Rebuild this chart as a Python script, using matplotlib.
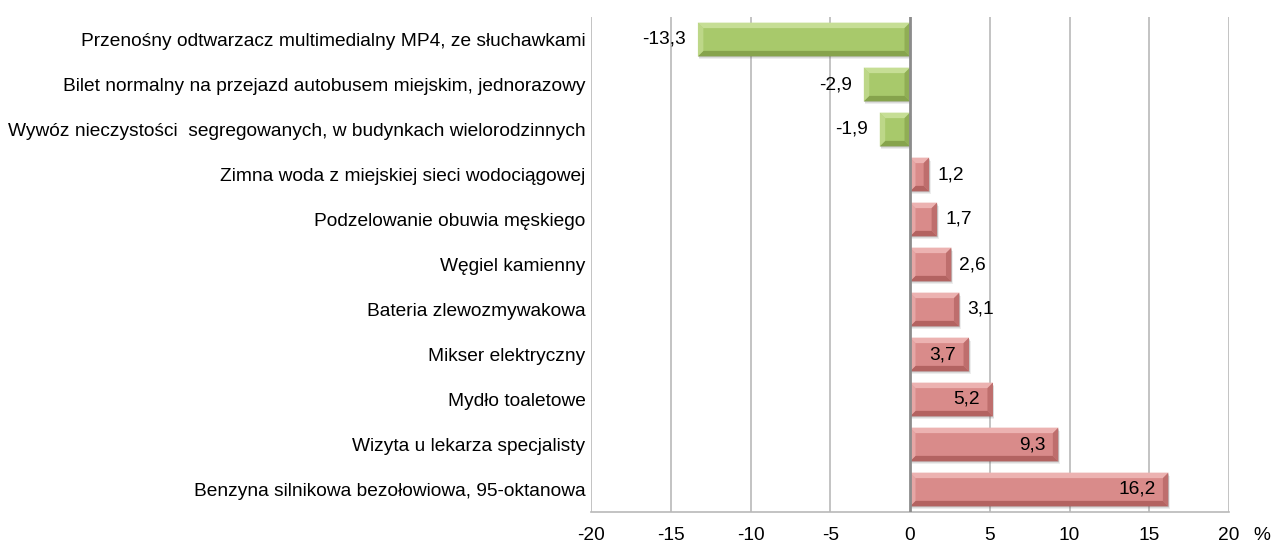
import numpy as np
import matplotlib.pyplot as plt
from matplotlib.patches import Polygon, Rectangle

plt.rcParams['font.family'] = ['Liberation Sans', 'DejaVu Sans']

# Data (top to bottom)
categories = [
    "Przenośny odtwarzacz multimedialny MP4, ze słuchawkami",
    "Bilet normalny na przejazd autobusem miejskim, jednorazowy",
    "Wywóz nieczystości  segregowanych, w budynkach wielorodzinnych",
    "Zimna woda z miejskiej sieci wodociągowej",
    "Podzelowanie obuwia męskiego",
    "Węgiel kamienny",
    "Bateria zlewozmywakowa",
    "Mikser elektryczny",
    "Mydło toaletowe",
    "Wizyta u lekarza specjalisty",
    "Benzyna silnikowa bezołowiowa, 95-oktanowa",
]
values = [-13.3, -2.9, -1.9, 1.2, 1.7, 2.6, 3.1, 3.7, 5.2, 9.3, 16.2]
x_ticks = [-20, -15, -10, -5, 0, 5, 10, 15, 20]

# colours: (main, light bevel, dark bevel)
GREEN = ("#a8c96b", "#c6de95", "#86a34c")
RED = ("#d98b8a", "#ecb2b1", "#b36361")
FS = 13.8

fig = plt.figure(figsize=(12.72, 5.43), dpi=100)
ax = fig.add_axes([591/1272, 1 - 512/543, (1229 - 591)/1272, (512 - 17)/543])

y = np.arange(len(categories))
ax.set_xlim(-20, 20)
ax.set_ylim(len(categories) - 0.5, -0.5)

for t in x_ticks:
    ax.axvline(t, color="#8c8c8c" if t == 0 else "#b9b9b9",
               lw=2.0 if t == 0 else 1.2, zorder=1 if t else 4)
for side in ["top", "right", "left"]:
    ax.spines[side].set_visible(False)
ax.spines["bottom"].set_color("#b9b9b9")
ax.spines["bottom"].set_linewidth(1.2)

bars = ax.barh(y, values, height=0.75, zorder=3, linewidth=0)

fig.canvas.draw()
# pixel -> data scale for bevel
px = 1.0 / (ax.transData.transform((1, 0))[0] - ax.transData.transform((0, 0))[0])
py = 1.0 / abs(ax.transData.transform((0, 1))[1] - ax.transData.transform((0, 0))[1])
bw = 5.5

for bar, v in zip(bars, values):
    main, light, dark = GREEN if v < 0 else RED
    x0, w = bar.get_x(), bar.get_width()
    if w < 0:
        x0, w = x0 + w, -w
    y0, h = bar.get_y(), bar.get_height()
    bar.set_facecolor(main)
    # soft shadow
    for k, a in [(3, 0.10), (2, 0.12), (1, 0.15)]:
        ax.add_patch(Rectangle((x0 + k * px * 0.5, y0 + k * py), w, h, color="#555555",
                               alpha=a, lw=0, zorder=2))
    bx, by = min(bw * px, w / 2), bw * py
    x1, y1 = x0 + w, y0 + h
    # top (y0 is visually top because axis inverted)
    ax.add_patch(Polygon([(x0, y0), (x1, y0), (x1 - bx, y0 + by), (x0 + bx, y0 + by)],
                         color=light, lw=0, zorder=3.5))
    ax.add_patch(Polygon([(x0, y1), (x1, y1), (x1 - bx, y1 - by), (x0 + bx, y1 - by)],
                         color=dark, lw=0, zorder=3.5))
    ax.add_patch(Polygon([(x0, y0), (x0 + bx, y0 + by), (x0 + bx, y1 - by), (x0, y1)],
                         color=light, lw=0, zorder=3.5, alpha=0.7))
    ax.add_patch(Polygon([(x1, y0), (x1 - bx, y0 + by), (x1 - bx, y1 - by), (x1, y1)],
                         color=dark, lw=0, zorder=3.5, alpha=0.7))

    lbl = f"{v:.1f}".replace(".", ",")
    yc = y0 + h / 2
    if v < 0:
        ax.annotate(lbl, (v, yc), xytext=(-12, 0), textcoords="offset pixels",
                    ha="right", va="center", fontsize=FS, zorder=6)
    elif v < 3.5:
        ax.annotate(lbl, (v, yc), xytext=(8, 0), textcoords="offset pixels",
                    ha="left", va="center", fontsize=FS, zorder=6)
    else:
        ax.annotate(lbl, (v, yc), xytext=(-13, 0), textcoords="offset pixels",
                    ha="right", va="center", fontsize=FS, zorder=6)

ax.set_yticks(y)
ax.set_yticklabels(categories, fontsize=FS)
ax.tick_params(axis="y", length=0, pad=4)
ax.set_xticks(x_ticks)
ax.set_xticklabels([str(t) for t in x_ticks], fontsize=FS)
ax.tick_params(axis="x", length=0, pad=11)

ax.annotate("%", xy=(1, 0), xycoords="axes fraction", xytext=(33, -23),
            textcoords="offset pixels", ha="center", va="center", fontsize=FS)

fig.savefig("out.png", dpi=100)
